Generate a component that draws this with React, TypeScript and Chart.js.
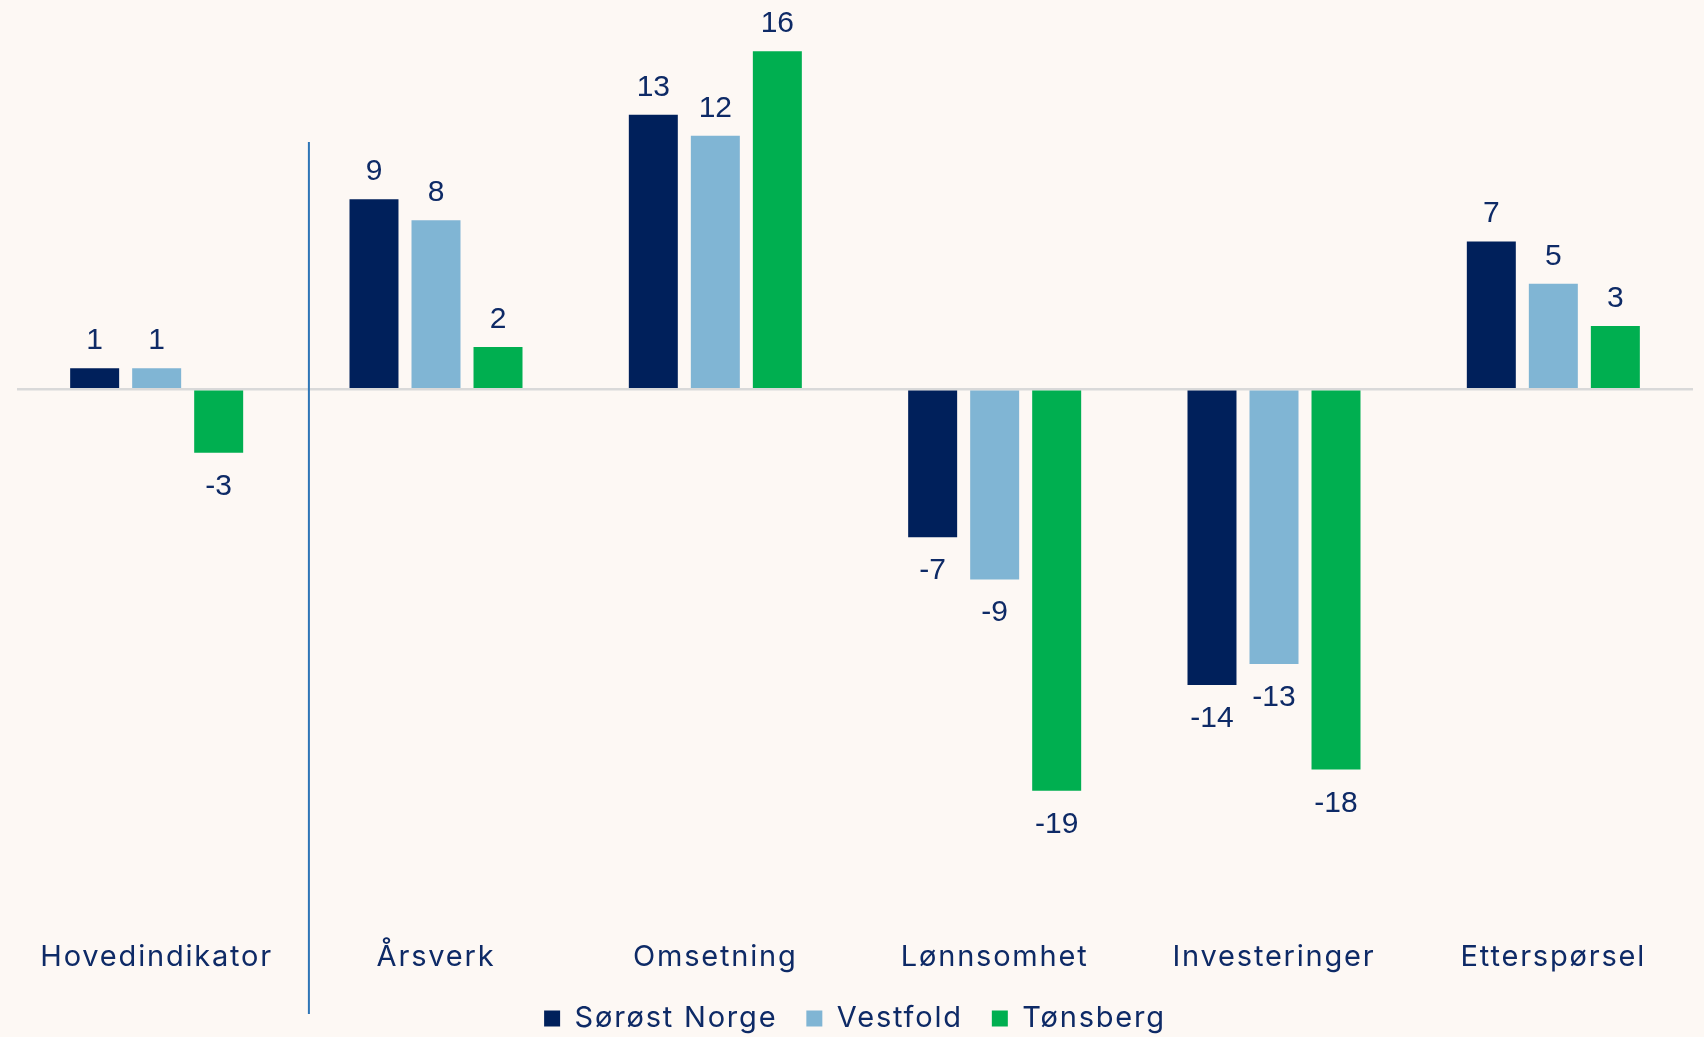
import React, { useEffect, useRef } from "react";
import { Chart, registerables } from "chart.js";

Chart.register(...registerables);

const categories = ["Hovedindikator", "Årsverk", "Omsetning", "Lønnsomhet", "Investeringer", "Etterspørsel"];
const seriesNames = ["Sørøst Norge", "Vestfold", "Tønsberg"];
const sorostNorge = [1, 9, 13, -7, -14, 7];
const vestfold = [1, 8, 12, -9, -13, 5];
const tonsberg = [-3, 2, 16, -19, -18, 3];
const seriesColors = ["#00205B", "#80B5D4", "#00AF50"];

const BG = "#FDF8F4";
const TEXT = "#0E2A66";
const AXIS_FONT = "Inter, 'Open Sans', sans-serif";
const LABEL_FONT = "'Liberation Sans', Arial, sans-serif";
const SPACING = "1.8px";

const spacingPlugin = {
  id: "spacing",
  beforeLayout(chart: any) {
    chart.ctx.letterSpacing = SPACING;
  },
  beforeDraw(chart: any) {
    chart.ctx.letterSpacing = SPACING;
    const ctx = chart.ctx;
    ctx.save();
    ctx.fillStyle = BG;
    ctx.fillRect(0, 0, chart.width, chart.height);
    ctx.restore();
  },
};

const valueLabels = {
  id: "valueLabels",
  afterDatasetsDraw(chart: any) {
    const ctx = chart.ctx;
    ctx.save();
    ctx.letterSpacing = "0px";
    ctx.fillStyle = TEXT;
    ctx.font = `30px ${LABEL_FONT}`;
    ctx.textAlign = "center";
    ctx.textBaseline = "alphabetic";
    chart.data.datasets.forEach((ds: any, di: number) => {
      const meta = chart.getDatasetMeta(di);
      meta.data.forEach((el: any, i: number) => {
        const v = ds.data[i];
        const y = v >= 0 ? el.y - 19 : el.y + 42;
        ctx.fillText(String(v), el.x, y);
      });
    });
    ctx.restore();
  },
};

const divider = {
  id: "divider",
  afterDraw(chart: any) {
    const x = chart.scales.x;
    const y = chart.scales.y;
    const px = x.getPixelForValue(0) + 0.545 * (x.getPixelForValue(1) - x.getPixelForValue(0));
    const ctx = chart.ctx;
    ctx.save();
    ctx.strokeStyle = "#2E75B6";
    ctx.lineWidth = 2;
    ctx.beginPath();
    ctx.moveTo(px, y.getPixelForValue(11.7));
    ctx.lineTo(px, chart.height - 23);
    ctx.stroke();
    ctx.restore();
  },
};

export default function App() {
  const ref = useRef<HTMLCanvasElement | null>(null);
  useEffect(() => {
    if (!ref.current) return;
    const series = [sorostNorge, vestfold, tonsberg];
    const chart = new Chart(ref.current, {
      type: "bar",
      data: {
        labels: categories,
        datasets: series.map((d, i) => ({
          label: seriesNames[i],
          data: d,
          backgroundColor: seriesColors[i],
          borderWidth: 0,
          barPercentage: 0.79,
          categoryPercentage: 0.666,
        })),
      },
      options: {
        animation: false,
        responsive: false,
        maintainAspectRatio: false,
        layout: { padding: { left: 17, right: 11, top: 9, bottom: 0 } },
        plugins: {
          tooltip: { enabled: false },
          legend: {
            position: "bottom",
            maxHeight: 62,
            labels: {
              boxWidth: 16,
              boxHeight: 16,
              padding: 29,
              color: TEXT,
              font: { family: AXIS_FONT, size: 29 },
            },
          },
        },
        scales: {
          x: {
            grid: { display: true, drawTicks: true, tickLength: 86, color: "rgba(0,0,0,0)", drawOnChartArea: false },
            border: { display: false },
            ticks: { color: TEXT, font: { family: AXIS_FONT, size: 29 }, padding: 0, maxRotation: 0, autoSkip: false },
            afterFit: (s: any) => {
              s.height = 121;
            },
          },
          y: {
            min: -22,
            max: 18,
            ticks: { display: false, stepSize: 1 },
            border: { display: false },
            grid: {
              drawTicks: false,
              color: (c: any) => (c.tick && c.tick.value === 0 ? "#D9D9D9" : "rgba(0,0,0,0)"),
              lineWidth: 2.5,
            },
          },
        },
      },
      plugins: [spacingPlugin, valueLabels, divider],
    });
    return () => chart.destroy();
  }, []);
  return (
    <div style={{ position: "absolute", left: 0, top: 0, width: 1704, height: 1037, background: BG }}>
      <canvas ref={ref} width={1704} height={1037} style={{ display: "block" }} />
    </div>
  );
}
